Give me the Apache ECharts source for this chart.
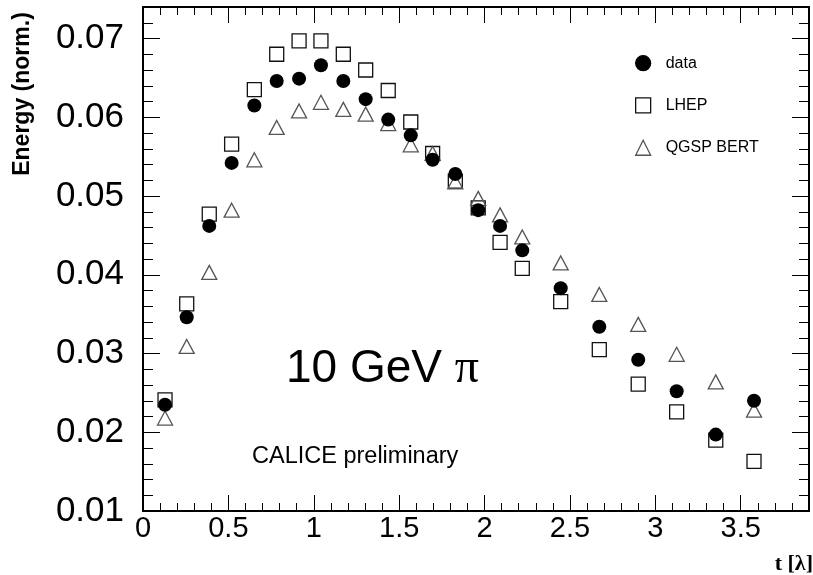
<!DOCTYPE html>
<html>
<head>
<meta charset="utf-8">
<script src="https://cdn.jsdelivr.net/npm/echarts@6/dist/echarts.min.js"></script>
<style>html,body{margin:0;padding:0;background:#fff;}#c{width:813px;height:575px;}</style>
</head>
<body>
<div id="c"></div>
<script>
// depth positions t [lambda]
const tValues = [0.129, 0.256, 0.388, 0.519, 0.652, 0.783, 0.914, 1.042, 1.173, 1.304, 1.436, 1.568, 1.696, 1.829, 1.963, 2.091, 2.221, 2.446, 2.672, 2.900, 3.125, 3.354, 3.578];
const dataValues = [0.0235, 0.0346, 0.0462, 0.0542, 0.0615, 0.0646, 0.0649, 0.0666, 0.0646, 0.0623, 0.0597, 0.0577, 0.0546, 0.0528, 0.0482, 0.0462, 0.0431, 0.0383, 0.0334, 0.0292, 0.0252, 0.0197, 0.0240];
const lhepValues = [0.0241, 0.0363, 0.0477, 0.0566, 0.0635, 0.0680, 0.0697, 0.0697, 0.0680, 0.0660, 0.0634, 0.0594, 0.0554, 0.0519, 0.0485, 0.0441, 0.0408, 0.0366, 0.0305, 0.0261, 0.0226, 0.0190, 0.0163];
const qgspValues = [0.0218, 0.0309, 0.0403, 0.0482, 0.0546, 0.0587, 0.0608, 0.0619, 0.0610, 0.0604, 0.0592, 0.0565, 0.0554, 0.0518, 0.0497, 0.0476, 0.0448, 0.0415, 0.0375, 0.0337, 0.0299, 0.0264, 0.0228];
const seriesNames = ['data', 'LHEP', 'QGSP BERT'];
const xTickLabels = ['0', '0.5', '1', '1.5', '2', '2.5', '3', '3.5'];
const yTickLabels = ['0.01', '0.02', '0.03', '0.04', '0.05', '0.06', '0.07'];

const FONT = 'Liberation Sans, Arial, sans-serif';
const pairs = arr => tValues.map((t, i) => [t, arr[i]]);

const chart = echarts.init(document.getElementById('c'), null, {renderer: 'canvas'});

function xAxisDef(pos, major) {
  return {
    type: 'value', position: pos, min: 0, max: 3.9, interval: major ? 0.5 : 0.1,
    axisLine: {show: major, onZero: false, lineStyle: {color: '#000', width: 2}},
    axisTick: {show: true, inside: true, length: major ? 16 : 8, lineStyle: {color: '#000', width: 1}},
    axisLabel: (major && pos === 'bottom') ? {
      show: true, margin: 3, fontSize: 29, fontFamily: FONT, color: '#000',
      showMaxLabel: false,
      formatter: v => { const s = xTickLabels.find(l => Math.abs(parseFloat(l) - v) < 1e-6); return s === undefined ? '' : s; }
    } : {show: false},
    splitLine: {show: false}
  };
}
function yAxisDef(pos, major) {
  return {
    type: 'value', position: pos, min: 0.01, max: 0.074, interval: major ? 0.01 : 0.002,
    axisLine: {show: major, onZero: false, lineStyle: {color: '#000', width: 2}},
    axisTick: {show: true, inside: true, length: major ? 17 : 10, lineStyle: {color: '#000', width: 1}},
    axisLabel: (major && pos === 'left') ? {
      show: true, margin: 19, fontSize: 35, fontFamily: FONT, color: '#000',
      showMaxLabel: false, padding: [5, 0, 0, 0],
      formatter: v => { const s = yTickLabels.find(l => Math.abs(parseFloat(l) - v) < 1e-7); return s === undefined ? '' : s; }
    } : {show: false},
    splitLine: {show: false}
  };
}

const option = {
  animation: false,
  backgroundColor: '#fff',
  grid: {left: 143, top: 7, right: 4, bottom: 64, containLabel: false},
  xAxis: [xAxisDef('bottom', true), xAxisDef('bottom', false), xAxisDef('top', true), xAxisDef('top', false)],
  yAxis: [yAxisDef('left', true), yAxisDef('left', false), yAxisDef('right', true), yAxisDef('right', false)],
  legend: {
    orient: 'vertical', left: 635, top: 55, padding: 0,
    itemWidth: 15, itemHeight: 15, itemGap: 26,
    textStyle: {fontSize: 16, fontFamily: FONT, color: '#000', padding: [0, 0, 0, 10]},
    itemStyle: {borderWidth: 1.3, opacity: 1},
    data: [
      {name: seriesNames[0], icon: 'circle'},
      {name: seriesNames[1], icon: 'rect'},
      {name: seriesNames[2], icon: 'triangle'}
    ]
  },
  series: [
    {
      name: seriesNames[1], type: 'scatter', xAxisIndex: 0, yAxisIndex: 0, z: 2,
      symbol: 'rect', symbolSize: 14,
      itemStyle: {color: 'rgba(255,255,255,0)', borderColor: '#111', borderWidth: 1.3, opacity: 1},
      data: pairs(lhepValues)
    },
    {
      name: seriesNames[2], type: 'scatter', xAxisIndex: 0, yAxisIndex: 0, z: 2,
      symbol: 'triangle', symbolSize: [15, 14],
      itemStyle: {color: 'rgba(255,255,255,0)', borderColor: '#555', borderWidth: 1.3, opacity: 1},
      data: pairs(qgspValues)
    },
    {
      name: seriesNames[0], type: 'scatter', xAxisIndex: 0, yAxisIndex: 0, z: 3,
      symbol: 'circle', symbolSize: 14,
      itemStyle: {color: '#000', borderColor: '#000', borderWidth: 0, opacity: 1},
      data: pairs(dataValues)
    }
  ],
  graphic: [
    {
      type: 'text', x: 23, y: 94, rotation: Math.PI / 2,
      style: {text: 'Energy (norm.)', fontSize: 23, fontWeight: 'bold', fontFamily: FONT, fill: '#000', textAlign: 'center', textVerticalAlign: 'middle'}
    },
    {
      type: 'text', x: 813, y: 564,
      style: {text: 't [λ]', fontSize: 22, fontWeight: 'bold', fontFamily: 'Liberation Serif, Times New Roman, serif', fill: '#000', textAlign: 'right', textVerticalAlign: 'middle'}
    },
    {
      type: 'text', x: 286, y: 369,
      style: {
        text: '{a|10 GeV }{b|π}', textVerticalAlign: 'middle',
        rich: {
          a: {fontSize: 46, fontFamily: FONT, fill: '#000', color: '#000'},
          b: {fontSize: 48, fontFamily: 'Liberation Serif, Times New Roman, serif', fill: '#000', color: '#000'}
        }
      }
    },
    {
      type: 'text', x: 252, y: 457,
      style: {text: 'CALICE preliminary', fontSize: 23.5, fontFamily: FONT, fill: '#000', textVerticalAlign: 'middle'}
    }
  ]
};
chart.setOption(option);
</script>
</body>
</html>
